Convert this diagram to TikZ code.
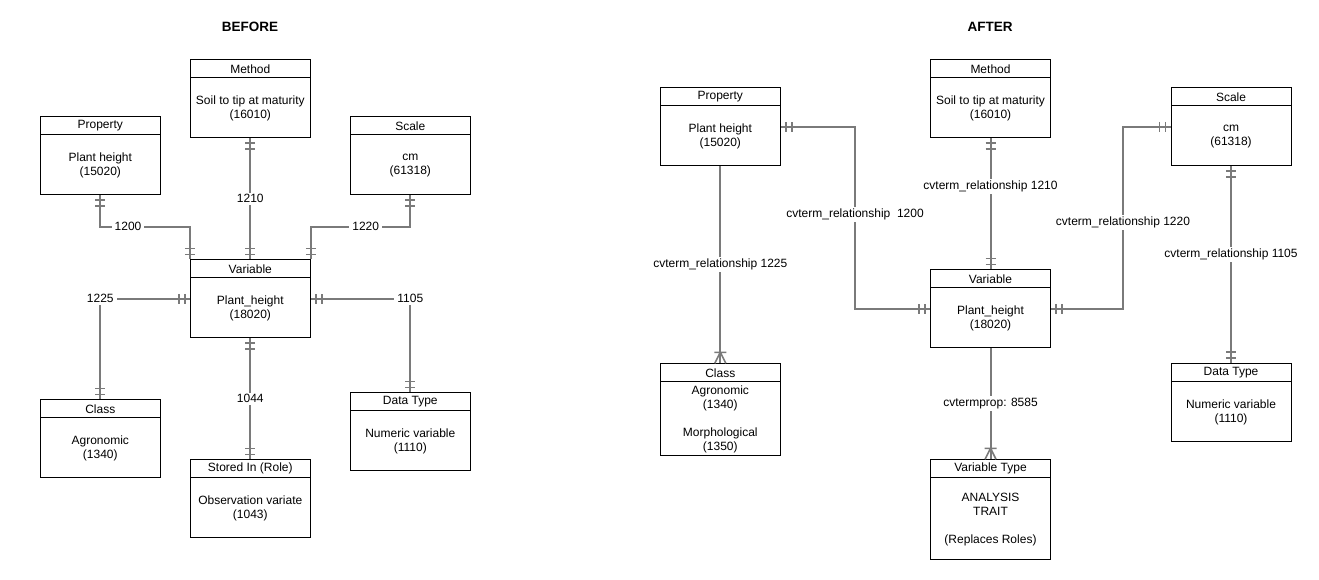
\documentclass[tikz,border=0pt]{standalone}
\usepackage{fontspec}
\setmainfont{Liberation Sans}
\usetikzlibrary{positioning, calc, decorations.markings}

\begin{document}
\begin{tikzpicture}[x=1pt, y=-1pt,
    font=\fontsize{12}{14}\selectfont,
    box/.style={draw, line width=0.9pt, anchor=north, minimum width=120pt, inner sep=0pt},
    hdr/.style={draw, line width=0.9pt, anchor=north, minimum width=120pt, minimum height=18pt, inner sep=0pt},
    txt/.style={align=center, inner sep=0pt},
    rel/.style={draw=black!52, line width=2pt},
    tick/.style={draw=black!52, line width=1.6pt},
    tag/.style={fill=white, inner xsep=3pt, inner ysep=2pt},
    title/.style={font=\bfseries\fontsize{13.5}{16}\selectfont},
    bars/.style={postaction={decorate, decoration={markings,
        mark=at position 5pt with {\draw[tick] (0,-5pt) -- (0,5pt);},
        mark=at position 11pt with {\draw[tick] (0,-5pt) -- (0,5pt);},
        mark=at position -11pt with {\draw[tick] (0,-5pt) -- (0,5pt);},
        mark=at position -5pt with {\draw[tick] (0,-5pt) -- (0,5pt);}}}},
    crow/.style={postaction={decorate, decoration={markings,
        mark=at position -11pt with {\draw[tick] (0,-6pt) -- (0,6pt) (0,0) -- (11pt,5.5pt) (0,0) -- (11pt,-5.5pt);}}}}
  ]
  \useasboundingbox (0,0) rectangle (1319,579);

  \node[title] (before) at (250,26.7) {BEFORE};
  \node[title] (after) at (990,26.7) {AFTER};

  % entities: name/x/top/height/header/text
  \foreach \nm/\px/\py/\hh/\hd/\tx in {
      prop1/100.3/116.3/78/Property/{Plant height\\(15020)},
      meth1/250.3/59.3/78/Method/{Soil to tip at maturity\\(16010)},
      scal1/410.3/116.3/78/Scale/{cm\\(61318)},
      var1/250.3/259.3/78/Variable/{Plant\_height\\(18020)},
      cls1/100.3/399.3/78/Class/{Agronomic\\(1340)},
      role1/250.3/459.3/78/Stored In (Role)/{Observation variate\\(1043)},
      dtyp1/410.3/392.3/78/Data Type/{Numeric variable\\(1110)},
      prop2/720.3/87.3/78/Property/{Plant height\\(15020)},
      meth2/990.5/59.3/78/Method/{Soil to tip at maturity\\(16010)},
      scal2/1231/87.3/78/Scale/{cm\\(61318)},
      var2/990.5/269.3/78/Variable/{Plant\_height\\(18020)},
      cls2/720.3/363.3/92/Class/{Agronomic\\(1340)\\[14pt]Morphological\\(1350)},
      vtyp2/990.5/459.3/100/Variable Type/{ANALYSIS\\TRAIT\\[14pt](Replaces Roles)},
      dtyp2/1231/363/78/Data Type/{Numeric variable\\(1110)}} {
    \node[box, minimum height=\hh pt] (\nm) at (\px,\py) {};
    \node[hdr] (\nm-h) at (\nm.north) {\hd};
    \node[txt] (\nm-t) at ($(\nm-h.south)!0.5!(\nm.south)$) {\tx};
  }

  % before
  \draw[rel, bars] (prop1.south) |- node[tag, pos=0.655] (l1200) {1200}
    ([yshift=32.6pt]var1.north west) -- (var1.north west);
  \draw[rel, bars] (meth1.south) -- node[tag] (l1210) {1210} (var1.north);
  \draw[rel, bars] (scal1.south) |- node[tag, pos=0.724] (l1220) {1220}
    ([yshift=32.6pt]var1.north east) -- (var1.north east);
  \draw[rel, bars] (var1.west) -| node[tag] (l1225) {1225} (cls1.north);
  \draw[rel, bars] (var1.east) -| node[tag] (l1105) {1105} (dtyp1.north);
  \draw[rel, bars] (var1.south) -- node[tag] (l1044) {1044} (role1.north);

  % after
  \draw[rel, bars] (prop2.east) -| node[tag, pos=0.74] (r1200) {cvterm\_relationship\ \ 1200}
    ([xshift=-75pt]var2.west) -- (var2.west);
  \draw[rel, bars] (meth2.south) -- node[tag, pos=0.37] (r1210) {cvterm\_relationship 1210} (var2.north);
  \draw[rel, bars] (scal2.west) -| node[tag, pos=0.763] (r1220) {cvterm\_relationship 1220}
    ([xshift=72pt]var2.east) -- (var2.east);
  \draw[rel, crow] (prop2.south) -- node[tag] (r1225) {cvterm\_relationship 1225} (cls2.north);
  \draw[rel, bars] (scal2.south) -- node[tag, pos=0.45] (r1105) {cvterm\_relationship 1105} (dtyp2.north);
  \draw[rel, crow] (var2.south) -- node[tag] (r8585) {cvtermprop: 8585} (vtyp2.north);
\end{tikzpicture}
\end{document}
